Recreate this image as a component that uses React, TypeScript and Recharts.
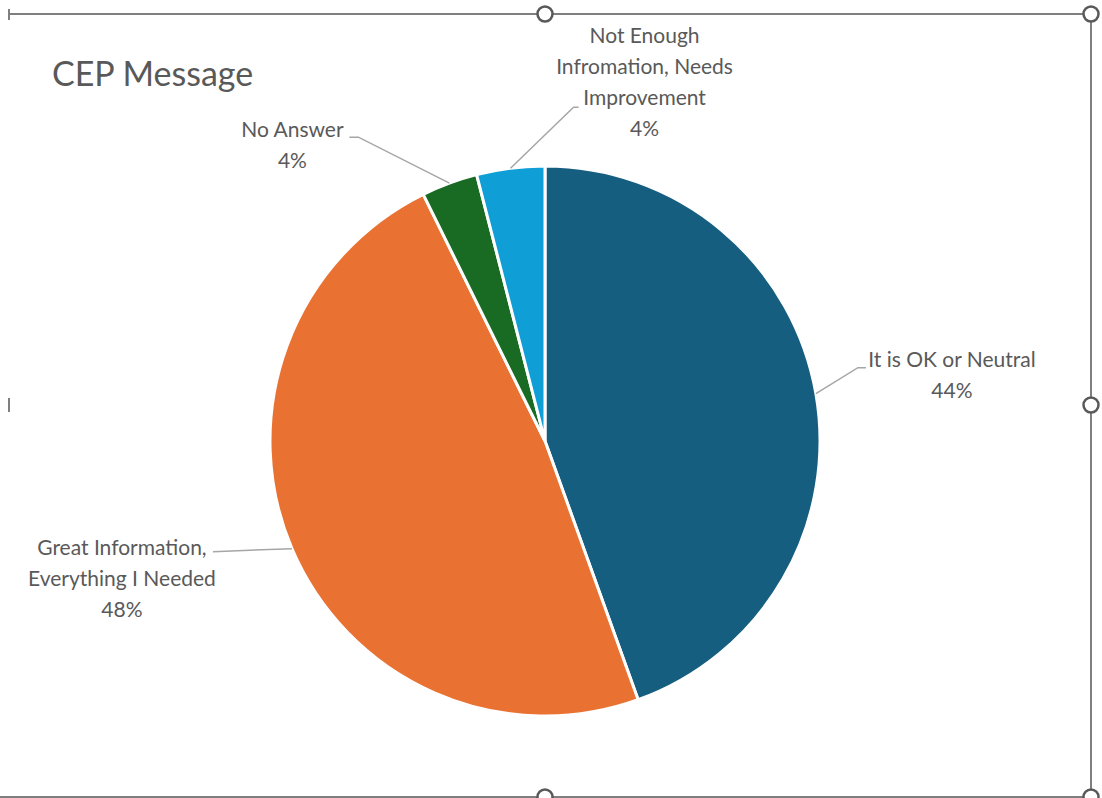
import { Cell, Pie, PieChart } from "recharts";

const categories = [
  "It is OK or Neutral",
  "Great Information, Everything I Needed",
  "No Answer",
  "Not Enough Infromation, Needs Improvement",
];
const shares = [44.5, 48.2, 3.3, 4.0];
const percentLabels = ["44%", "48%", "4%", "4%"];
const labelLines = [
  ["It is OK or Neutral"],
  ["Great Information,", "Everything I Needed"],
  ["No Answer"],
  ["Not Enough", "Infromation, Needs", "Improvement"],
];
const colors = ["#165e80", "#e97132", "#196b24", "#0f9ed5"];

const data = categories.map((name, i) => ({ name, value: shares[i] }));

// leader line + text placement, relative to the point where the leader leaves the pie
const labelLayout = [
  { elbow: [42, -26], end: [50, -26], text: [136, -20] },
  { elbow: [-79, 3], end: [-79, 3], text: [-170, 28] },
  { elbow: [-91, -46], end: [-100, -46], text: [-157, -40] },
  { elbow: [63, -61], end: [68, -61], text: [134, -88] },
];

const FONT = "Lato, 'Open Sans', sans-serif";
const TEXT = "#595959";
const LINE_H = 31;

const RAD = Math.PI / 180;

function renderLabel(props: any) {
  const { cx, cy, midAngle, outerRadius, index } = props;
  const sx = cx + outerRadius * Math.cos(-midAngle * RAD);
  const sy = cy + outerRadius * Math.sin(-midAngle * RAD);
  const lay = labelLayout[index];
  const lines = [...labelLines[index], percentLabels[index]];
  const tx = sx + lay.text[0];
  const ty = sy + lay.text[1];
  const top = ty - ((lines.length - 1) * LINE_H) / 2;
  return (
    <g>
      <polyline
        points={`${sx},${sy} ${sx + lay.elbow[0]},${sy + lay.elbow[1]} ${sx + lay.end[0]},${sy + lay.end[1]}`}
        fill="none"
        stroke="#a6a6a6"
        strokeWidth={1.5}
      />
      <text
        x={tx}
        y={top}
        textAnchor="middle"
        dominantBaseline="central"
        fill={TEXT}
        fontFamily={FONT}
        fontSize={21}
      >
        {lines.map((l, i) => (
          <tspan key={i} x={tx} y={top + i * LINE_H}>
            {l}
          </tspan>
        ))}
      </text>
    </g>
  );
}

function Frame() {
  const handle = (x: number, y: number, k: string) => (
    <circle key={k} cx={x} cy={y} r={7.5} fill="#fff" stroke="#595959" strokeWidth={2.5} />
  );
  return (
    <svg
      width={1102}
      height={798}
      style={{ position: "absolute", left: 0, top: 0 }}
    >
      <line x1={9} y1={14} x2={1091} y2={14} stroke="#7f7f7f" strokeWidth={2} />
      <line x1={9} y1={9} x2={9} y2={20} stroke="#7f7f7f" strokeWidth={2} />
      <line x1={1091} y1={14} x2={1091} y2={798} stroke="#7f7f7f" strokeWidth={2} />
      <line x1={0} y1={797} x2={1091} y2={797} stroke="#7f7f7f" strokeWidth={2} />
      <line x1={9} y1={398} x2={9} y2={412} stroke="#7f7f7f" strokeWidth={2} />
      {handle(545, 14, "a")}
      {handle(1091, 14, "b")}
      {handle(1091, 405, "c")}
      {handle(545, 797, "d")}
      {handle(1091, 797, "e")}
    </svg>
  );
}

export default function App() {
  return (
    <div
      style={{
        position: "fixed",
        left: 0,
        top: 0,
        width: 1102,
        height: 798,
        background: "#fff",
        overflow: "hidden",
      }}
    >
      <Frame />
      <div
        style={{
          position: "absolute",
          left: 52,
          top: 53,
          fontFamily: FONT,
          fontSize: 34,
          lineHeight: 1.2,
          color: TEXT,
        }}
      >
        CEP Message
      </div>
      <div style={{ position: "absolute", left: 0, top: 0 }}>
        <PieChart width={1102} height={798}>
          <Pie
            data={data}
            dataKey="value"
            nameKey="name"
            cx={540}
            cy={436}
            outerRadius={275}
            startAngle={90}
            endAngle={-270}
            stroke="#fff"
            strokeWidth={3}
            label={renderLabel}
            labelLine={false}
            isAnimationActive={false}
          >
            {data.map((d, i) => (
              <Cell key={d.name} fill={colors[i]} />
            ))}
          </Pie>
        </PieChart>
      </div>
    </div>
  );
}
